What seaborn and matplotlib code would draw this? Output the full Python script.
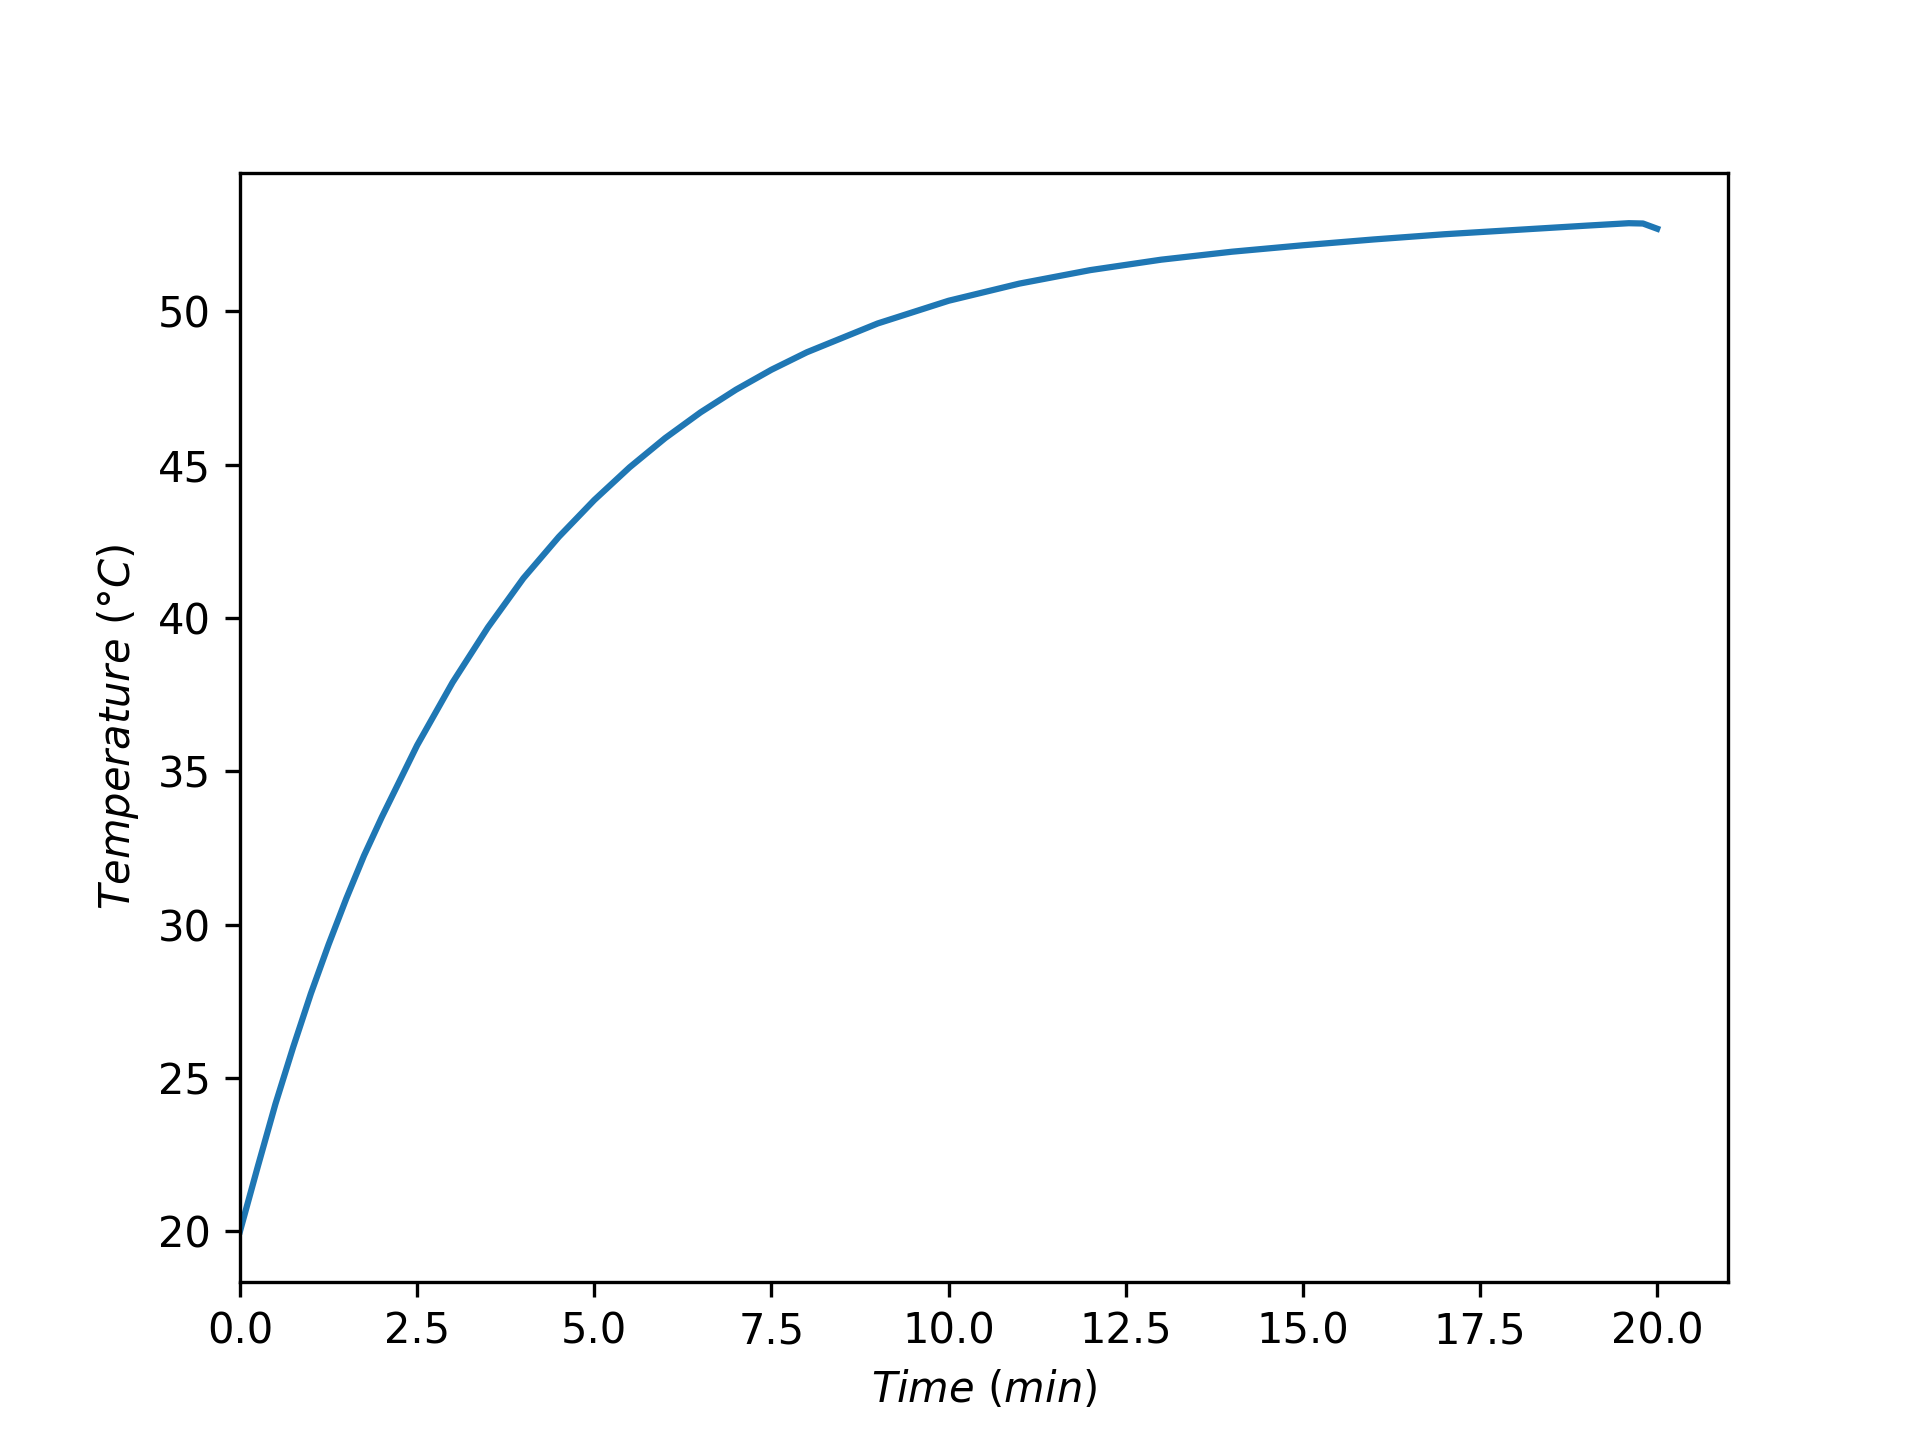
import matplotlib
matplotlib.use('Agg')
import matplotlib.pyplot as plt
import seaborn as sns
import pandas as pd

# valeurs
temps_min = [0, 0.25, 0.5, 0.75, 1, 1.25, 1.5, 1.75, 2, 2.5, 3, 3.5, 4, 4.5, 5, 5.5, 6,
             6.5, 7, 7.5, 8, 9, 10, 11, 12, 13, 14, 15, 16, 17, 18, 19, 19.6, 19.8, 20]
temperature_c = [20.0, 22.1, 24.15, 26.0, 27.75, 29.35, 30.85, 32.25, 33.5, 35.85, 37.9,
                 39.7, 41.3, 42.65, 43.85, 44.92, 45.87, 46.71, 47.45, 48.1, 48.67, 49.61,
                 50.35, 50.91, 51.35, 51.69, 51.95, 52.16, 52.35, 52.52, 52.66, 52.8,
                 52.88, 52.87, 52.7]

donnees = pd.DataFrame({'Time': temps_min, 'Temperature': temperature_c})

fig = plt.figure(figsize=(6.4, 4.8), dpi=300)
ax = fig.add_subplot(111)
sns.lineplot(x='Time', y='Temperature', data=donnees, ax=ax, color='#1f77b4', linewidth=1.5)
ax.set_xlim(left=0)
ax.set_xlabel(r'$Time\ (min)$')
ax.set_ylabel(r'$Temperature\ (°C)$')
plt.savefig('out.png', dpi=300)
